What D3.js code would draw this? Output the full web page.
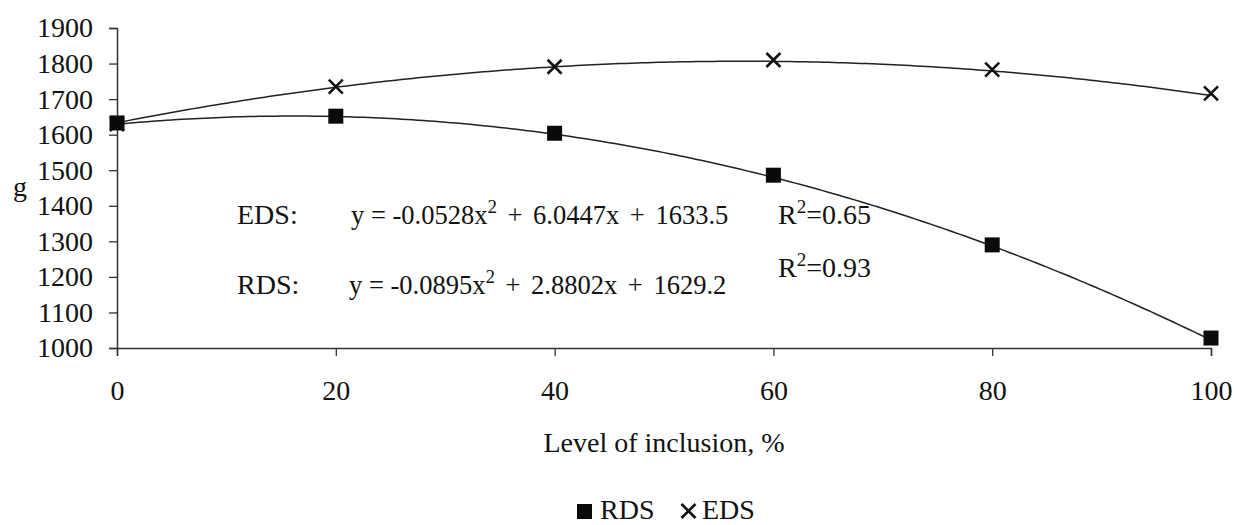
<!DOCTYPE html>
<html>
<head>
<meta charset="utf-8">
<script src="https://cdn.jsdelivr.net/npm/d3@7"></script>
<style>
  html, body { margin: 0; padding: 0; background: #fff; }
  svg { display: block; }
  text { font-family: "Liberation Serif", "Times New Roman", serif; fill: #111; }
</style>
</head>
<body>
<svg id="chart" width="1237" height="525"></svg>
<script>
// ---- data ----
const levels = [0, 20, 40, 60, 80, 100];
const rdsValues = [1633, 1652, 1604, 1486, 1290, 1028];
const edsValues = [1630, 1735, 1791, 1810, 1783, 1716];
const yTickValues = [1000, 1100, 1200, 1300, 1400, 1500, 1600, 1700, 1800, 1900];
const xTickValues = [0, 20, 40, 60, 80, 100];
const seriesNames = ["RDS", "EDS"];
// trendline coefficients as printed: [c, b, a] for y = a x^2 + b x + c
const edsCoef = [1633.5, 6.0447, -0.0528];
const rdsCoef = [1629.2, 2.8802, -0.0895];
const edsR2 = "0.65";
const rdsR2 = "0.93";
const xTitle = "Level of inclusion, %";
const yTitle = "g";

// ---- layout ----
const svg = d3.select("#chart");
const plotL = 117, plotR = 1211, plotT = 28, plotB = 348;
const FS = 28;

const x = d3.scaleLinear().domain([0, 100]).range([plotL, plotR]);
const y = d3.scaleLinear().domain([1000, 1900]).range([plotB, plotT]);

// axes
const yAxis = d3.axisLeft(y).tickValues(yTickValues).tickSize(8).tickPadding(16).tickFormat(d3.format("d"));
const gy = svg.append("g").attr("transform", `translate(${plotL},0)`).call(yAxis);
const xAxis = d3.axisBottom(x).tickValues(xTickValues).tickSize(8).tickPadding(24).tickFormat(d3.format("d"));
const gx = svg.append("g").attr("transform", `translate(0,${plotB})`).call(xAxis);

[gx, gy].forEach(g => {
  g.select(".domain").attr("stroke", "#333").attr("stroke-width", 1.5);
  g.selectAll(".tick line").attr("stroke", "#333").attr("stroke-width", 1.3);
  g.selectAll(".tick text").attr("font-family", "Liberation Serif").attr("font-size", FS).attr("fill", "#111");
});

// trend lines from printed coefficients
const poly = (c) => (v) => c[0] + c[1] * v + c[2] * v * v;
const xs = x.ticks(200);
const line = d3.line().x(d => x(d[0])).y(d => y(d[1]));
[edsCoef, rdsCoef].forEach(c => {
  const f = poly(c);
  svg.append("path")
    .datum(xs.map(v => [v, f(v)]))
    .attr("d", line)
    .attr("fill", "none")
    .attr("stroke", "#222")
    .attr("stroke-width", 1.5);
});

// markers
const crossPath = (s) => `M${-s},${-s}L${s},${s}M${-s},${s}L${s},${-s}`;
svg.append("g").selectAll("path")
  .data(levels.map((l, i) => [l, edsValues[i]]))
  .join("path")
  .attr("transform", d => `translate(${x(d[0])},${y(d[1])})`)
  .attr("d", crossPath(7))
  .attr("stroke", "#111").attr("stroke-width", 2.6).attr("fill", "none");

svg.append("g").selectAll("rect")
  .data(levels.map((l, i) => [l, rdsValues[i]]))
  .join("rect")
  .attr("x", d => x(d[0]) - 7.5).attr("y", d => y(d[1]) - 7.5)
  .attr("width", 15).attr("height", 15)
  .attr("fill", "#0a0a0a");

// equations
const EQ = 26.5;
function equation(label, coef, yBase, eqX) {
  svg.append("text").attr("x", 237).attr("y", yBase).attr("font-size", FS).text(label + ":");
  const t = svg.append("text").attr("x", eqX).attr("y", yBase).attr("font-size", EQ);
  const a = coef[2].toFixed(4), b = coef[1].toFixed(4), c = coef[0].toFixed(1);
  t.append("tspan").text(`y = ${a}x`);
  t.append("tspan").attr("font-size", 19).attr("dy", -11).text("2");
  t.append("tspan").attr("dy", 11).attr("word-spacing", 4).text(` + ${b}x + ${c}`);
}
equation(seriesNames[1], edsCoef, 224, 351);
equation(seriesNames[0], rdsCoef, 294, 349);

function r2Text(val, yBase) {
  const t = svg.append("text").attr("x", 778).attr("y", yBase).attr("font-size", FS);
  t.append("tspan").text("R");
  t.append("tspan").attr("font-size", 19).attr("dy", -11).text("2");
  t.append("tspan").attr("dy", 11).text("=" + val);
}
r2Text(edsR2, 224);
r2Text(rdsR2, 277);

// axis titles
svg.append("text").attr("x", 664).attr("y", 452).attr("text-anchor", "middle")
  .attr("font-size", FS).text(xTitle);
svg.append("text").attr("x", 13).attr("y", 196).attr("font-size", FS).text(yTitle);

// legend
const lg = svg.append("g");
lg.append("rect").attr("x", 577).attr("y", 504).attr("width", 15).attr("height", 15).attr("fill", "#0a0a0a");
lg.append("text").attr("x", 600).attr("y", 519).attr("font-size", FS).text(seriesNames[0]);
lg.append("path").attr("transform", "translate(688.5,511)").attr("d", crossPath(7))
  .attr("stroke", "#111").attr("stroke-width", 2.6).attr("fill", "none");
lg.append("text").attr("x", 702).attr("y", 519).attr("font-size", FS).text(seriesNames[1]);
</script>
</body>
</html>
